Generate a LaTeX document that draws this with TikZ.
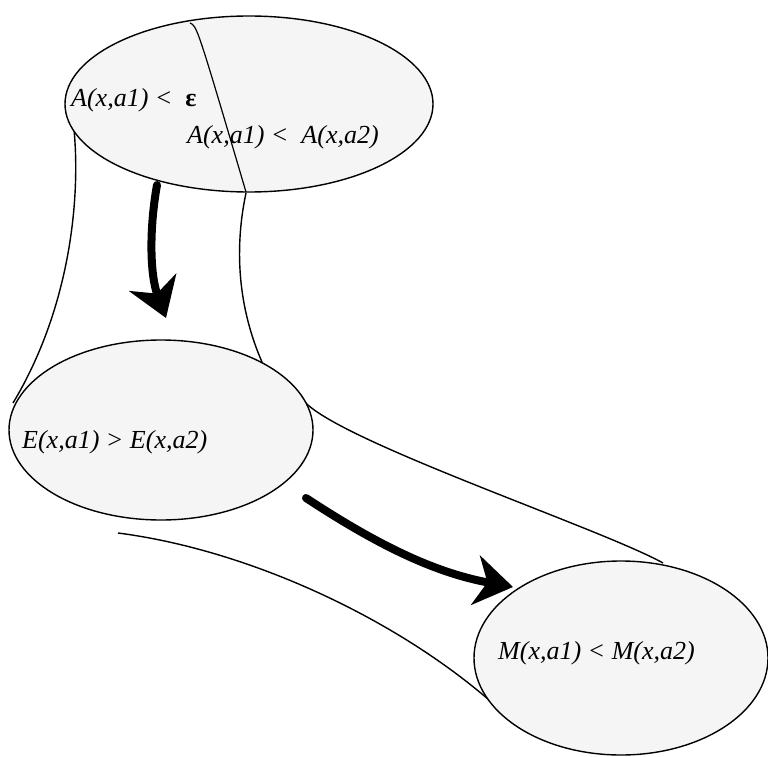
\documentclass[tikz,border=0pt]{standalone}
\usepackage{fontspec}
\setmainfont{Liberation Serif}
\usetikzlibrary{shapes.geometric,arrows.meta}
\begin{document}
\begin{tikzpicture}[x=1pt,y=-1pt,
  region/.style={ellipse,draw=black,line width=1.4pt,fill=black!4,inner sep=0pt},
  tube/.style={draw=black,line width=1.4pt},
  bigarrow/.style={line width=8pt,line cap=round,-{Stealth[length=38pt,width=50pt,inset=12pt]}},
  lbl/.style={anchor=base west,inner sep=0pt,font=\fontsize{26}{30}\selectfont\itshape}]
\useasboundingbox (0,0) rectangle (768,757);
% tube outlines
\coordinate (t1a) at (72,113);
\coordinate (t1b) at (13,403);
\coordinate (t2a) at (246,193);
\coordinate (t2b) at (262,362);
\coordinate (t3a) at (303,400);
\coordinate (t3b) at (663,563);
\coordinate (t4a) at (118,533);
\coordinate (t4b) at (497,707);
\draw[tube] (t1a) .. controls (82,180) and (75,300) .. (t1b);
\draw[tube] (t2a) .. controls (236,240) and (235,300) .. (t2b);
\draw[tube] (t3a) .. controls (335,440) and (600,528) .. (t3b);
\draw[tube] (t4a) .. controls (250,550) and (400,620) .. (t4b);
% regions
\node[region,minimum width=368pt,minimum height=176pt] (A) at (249,104) {};
\node[region,minimum width=304pt,minimum height=180pt] (E) at (161,430) {};
\node[region,minimum width=294pt,minimum height=194pt] (M) at (621,658) {};
% split line in A
\coordinate (s1) at (190,23);
\coordinate (s2) at (246,192);
\draw[tube,line width=1.2pt] (s1) .. controls (197,26) .. (s2);
% labels
\node[lbl] (la1) at (71,107) {A(x,a1) <~~{\upshape\bfseries ε}};
\node[lbl] (la2) at (187,143) {A(x,a1) <~~A(x,a2)};
\node[lbl] (le) at (22,448) {E(x,a1) > E(x,a2)};
\node[lbl] (lm) at (498,659) {M(x,a1) < M(x,a2)};
% arrows
\coordinate (a1s) at (157,185);
\coordinate (a1e) at (166,318);
\coordinate (a2s) at (306,498);
\coordinate (a2e) at (513,587);
\draw[bigarrow] (a1s) .. controls (149,230) and (150,275) .. (a1e);
\draw[bigarrow] (a2s) .. controls (370,540) and (430,572) .. (a2e);
\end{tikzpicture}
\end{document}
